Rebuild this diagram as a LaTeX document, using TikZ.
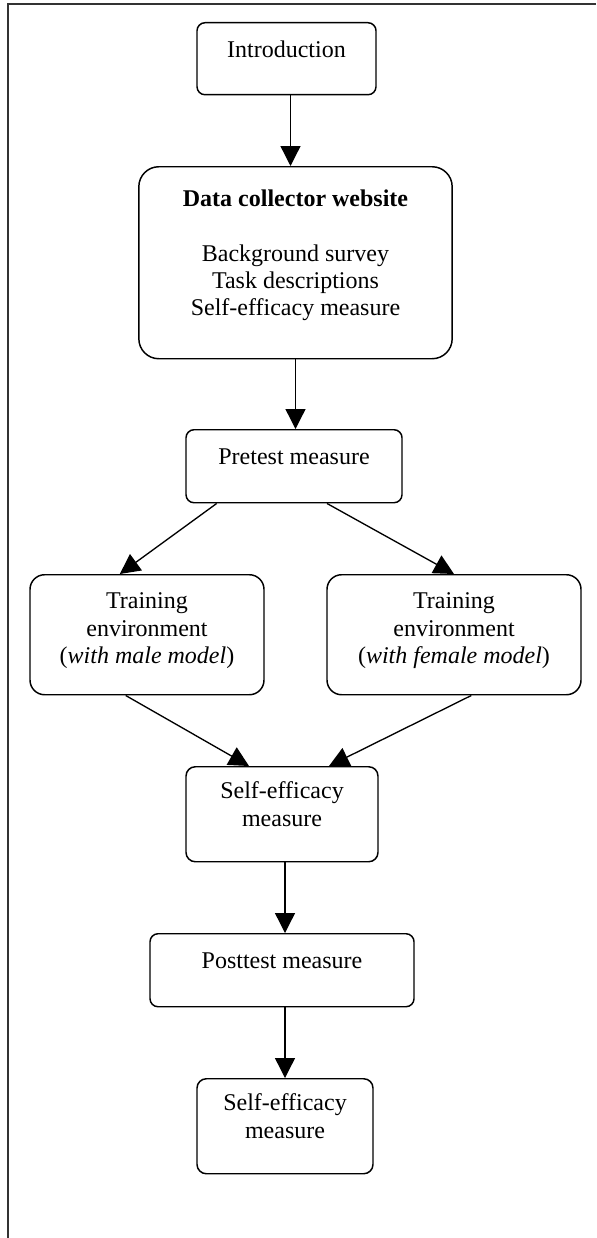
\documentclass[tikz,border=0pt]{standalone}
\usepackage{fontspec}
\setmainfont{Liberation Serif}
\usetikzlibrary{arrows.meta}
\newcommand\bpad[1][15pt]{\rule[-#1]{0pt}{#1}}

\begin{document}
\begin{tikzpicture}[x=0.75pt, y=-0.75pt,
    stage/.style={draw, line width=1.1pt, align=center, anchor=north, inner sep=2pt,
        font=\fontsize{18}{20.6}\selectfont},
    flow/.style={line width=1pt, -{Triangle[length=15pt, width=15pt]}}]
    \useasboundingbox (0,0) rectangle (596,1238);
    \draw[line width=1.3pt, black!80] (596,4) -- (8,4) -- (8,1238);

    \node[stage, rounded corners=6pt, minimum width=134.25pt, minimum height=54pt] (intro) at (286.5,22) {Introduction\bpad};
    \node[stage, rounded corners=15pt, minimum width=235pt, minimum height=144pt] (data) at (295.5,166)
        {\textbf{Data collector website}\\[20.6pt]Background survey\\Task descriptions\\Self-efficacy measure\bpad};
    \node[stage, rounded corners=6pt, minimum width=162pt, minimum height=54.75pt] (pretest) at (294,429) {Pretest measure\bpad};
    \node[stage, rounded corners=11pt, minimum width=175.5pt, minimum height=90pt] (trainM) at (147,574)
        {Training\\environment\\(\textit{with male model})\bpad[10pt]};
    \node[stage, rounded corners=11pt, minimum width=190.5pt, minimum height=90pt] (trainF) at (454,574)
        {Training\\environment\\(\textit{with female model})\bpad[10pt]};
    \node[stage, rounded corners=7pt, minimum width=144pt, minimum height=71.25pt] (selfA) at (282,766) {Self-efficacy\\measure\bpad};
    \node[stage, rounded corners=6pt, minimum width=198pt, minimum height=54.75pt] (post) at (282,933) {Posttest measure\bpad};
    \node[stage, rounded corners=7pt, minimum width=132pt, minimum height=71.25pt] (selfB) at (285,1078) {Self-efficacy\\measure\bpad};

    \draw[flow] ([xshift=3pt]intro.south) -- ([xshift=-3.75pt]data.north);
    \draw[flow] (data.south) -- (data.south |- pretest.north);
    \draw[flow] ([xshift=-58pt]pretest.south) -- ([xshift=-20.4pt]trainM.north);
    \draw[flow] ([xshift=24.75pt]pretest.south) -- (trainF.north);
    \draw[flow] ([xshift=-16pt]trainM.south) -- ([xshift=-24.75pt]selfA.north);
    \draw[flow] ([xshift=13pt]trainF.south) -- ([xshift=35.25pt]selfA.north);
    \draw[flow] ([xshift=2.25pt]selfA.south) -- ([xshift=2.25pt]post.north);
    \draw[flow] ([xshift=2.25pt]post.south) -- (selfB.north);
\end{tikzpicture}
\end{document}
